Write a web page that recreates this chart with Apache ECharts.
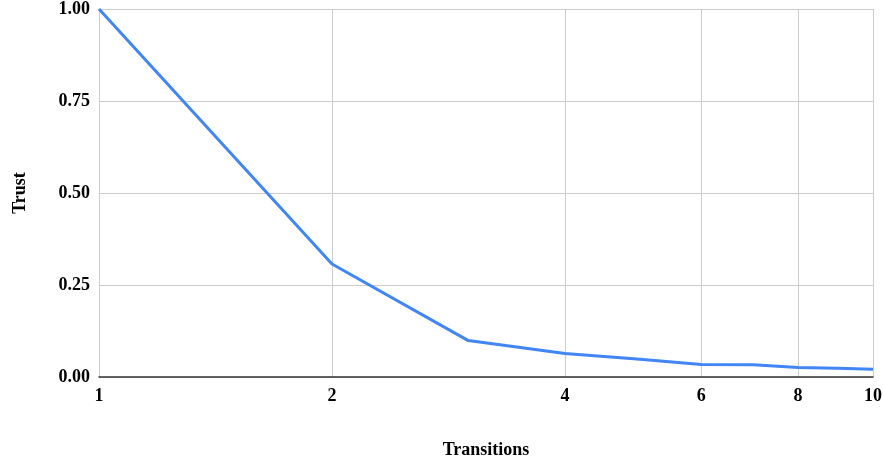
<!DOCTYPE html>
<html>
<head>
<meta charset="utf-8">
<script src="https://cdn.jsdelivr.net/npm/echarts@6/dist/echarts.min.js"></script>
<style>
  html, body { margin: 0; padding: 0; background: #fff; overflow: hidden; }
  #chart { width: 883px; height: 457px; }
</style>
</head>
<body>
<div id="chart"></div>
<script>
// Trust after each transition
const transitions = [1, 2, 3, 4, 5, 6, 7, 8, 9, 10];
const trust = [1.0, 0.307, 0.099, 0.064, 0.048, 0.034, 0.033, 0.026, 0.024, 0.021];
const xTickValues = [1, 2, 4, 6, 8, 10];

const font = 'Liberation Serif';
const chart = echarts.init(document.getElementById('chart'));
chart.setOption({
  animation: false,
  grid: { left: 99, right: 10, top: 9, bottom: 80, containLabel: false, outerBoundsMode: 'none' },
  xAxis: {
    type: 'log',
    logBase: 2,
    min: 1,
    max: 10,
    name: 'Transitions',
    nameLocation: 'middle',
    nameGap: 64,
    nameTextStyle: { fontFamily: font, fontWeight: 'bold', fontSize: 18, color: '#000' },
    axisLine: { show: true, lineStyle: { color: '#333', width: 1.5 } },
    axisTick: { show: false, customValues: xTickValues },
    axisLabel: {
      customValues: xTickValues,
      fontFamily: font, fontWeight: 'bold', fontSize: 18, color: '#000', margin: 10
    },
    splitLine: { show: true, lineStyle: { color: '#cccccc', width: 1 } }
  },
  yAxis: {
    type: 'value',
    min: 0,
    max: 1,
    interval: 0.25,
    name: 'Trust',
    nameLocation: 'middle',
    nameGap: 70,
    nameRotate: 90,
    nameTextStyle: { fontFamily: font, fontWeight: 'bold', fontSize: 18, color: '#000' },
    axisLine: { show: false },
    axisTick: { show: false },
    axisLabel: {
      formatter: v => v.toFixed(2),
      fontFamily: font, fontWeight: 'bold', fontSize: 18, color: '#000', margin: 9
    },
    splitLine: { show: true, lineStyle: { color: '#cccccc', width: 1 } }
  },
  series: [{
    type: 'line',
    data: transitions.map((t, i) => [t, trust[i]]),
    showSymbol: false,
    lineStyle: { color: '#4285F4', width: 3 },
    itemStyle: { color: '#4285F4' }
  }]
});
</script>
</body>
</html>
